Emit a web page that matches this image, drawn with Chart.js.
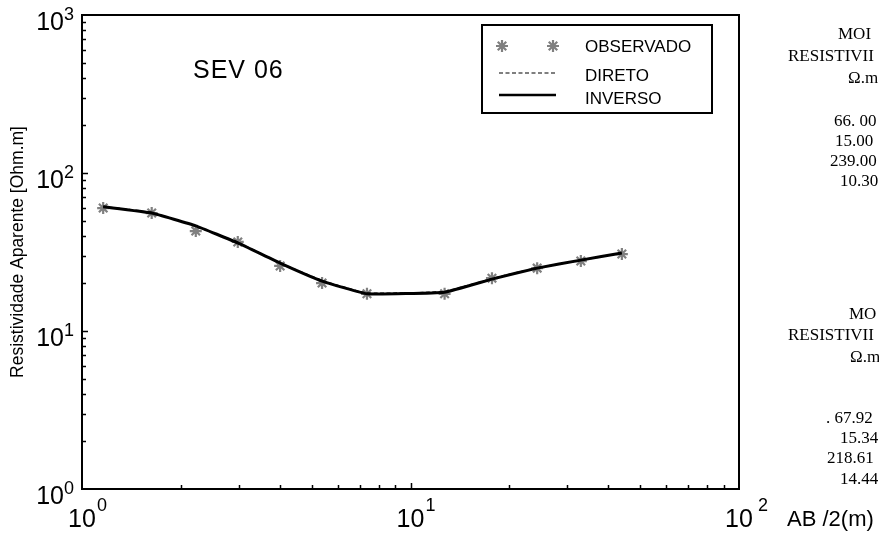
<!DOCTYPE html>
<html>
<head>
<meta charset="utf-8">
<script src="https://cdn.jsdelivr.net/npm/chart.js@4"></script>
<style>
html,body{margin:0;padding:0;background:#fff;}
#wrap{width:879px;height:534px;position:relative;}
</style>
</head>
<body>
<div id="wrap"><canvas id="c" width="879" height="534"></canvas></div>
<script>
// ---- data ----
const abHalf   = [1.16, 1.63, 2.22, 2.98, 4.01, 5.38, 7.37, 12.7, 17.7, 24.3, 33.0, 44.0];
const rhoObs   = [60.0, 55.8, 42.9, 36.6, 25.8, 20.1, 17.2, 17.2, 21.6, 25.0, 27.7, 30.7];
const rhoInv   = [61.1, 55.8, 46.3, 36.1, 26.9, 20.7, 17.2, 17.6, 21.3, 25.0, 28.1, 31.2];
const rhoDir   = [61.5, 56.3, 46.0, 36.5, 27.0, 20.9, 17.4, 17.8, 21.5, 25.2, 28.0, 31.0];
const xTicks   = [1, 10, 100];
const yTicks   = [1, 10, 100, 1000];
const tickExp  = {1:'0', 10:'1', 100:'2', 1000:'3'};
const seriesNames = ['OBSERVADO', 'DIRETO', 'INVERSO'];
const titleText = 'SEV 06';
const xTitle = 'AB /2(m)';
const yTitle = 'Resistividade Aparente [Ohm.m]';
const modelHeader1 = ['MOI', 'RESISTIVII', 'Ω.m'];
const modelValues1 = ['66. 00', '15.00', '239.00', '10.30'];
const modelHeader2 = ['MO', 'RESISTIVII', 'Ω.m'];
const modelValues2 = ['. 67.92', '15.34', '218.61', '14.44'];

const pts = arr => abHalf.map((v, i) => ({x: v, y: arr[i]}));
const SANS = '"Liberation Sans", Arial, sans-serif';
const SERIF = '"Liberation Serif", "Times New Roman", serif';

function drawStar(ctx, cx, cy, r){
  ctx.beginPath();
  ctx.moveTo(cx - r, cy); ctx.lineTo(cx + r, cy);
  ctx.moveTo(cx, cy - r); ctx.lineTo(cx, cy + r);
  const d = r * 0.7071;
  ctx.moveTo(cx - d, cy - d); ctx.lineTo(cx + d, cy + d);
  ctx.moveTo(cx - d, cy + d); ctx.lineTo(cx + d, cy - d);
  ctx.stroke();
}

const deco = {
  id: 'deco',
  afterDraw(chart){
    const {ctx, chartArea: a, scales: {x, y}} = chart;
    ctx.save();
    // frame
    ctx.strokeStyle = '#000';
    ctx.lineWidth = 2;
    ctx.strokeRect(a.left, a.top, a.right - a.left, a.bottom - a.top);
    // inward ticks
    ctx.lineWidth = 1.5;
    ctx.beginPath();
    for (let d = 1; d < 1000; d *= 10){
      for (let k = 1; k <= 9; k++){
        const v = d * k;
        if (v <= 1 || v >= 1000) continue;
        const py = Math.round(y.getPixelForValue(v)) + 0.5;
        const len = k === 1 ? 6 : 4;
        ctx.moveTo(a.left, py); ctx.lineTo(a.left + len, py);
      }
    }
    for (let d = 1; d < 100; d *= 10){
      for (let k = 1; k <= 9; k++){
        const v = d * k;
        if (v <= 1 || v >= 100) continue;
        const px = Math.round(x.getPixelForValue(v)) + 0.5;
        const len = k === 1 ? 6 : 4;
        ctx.moveTo(px, a.bottom); ctx.lineTo(px, a.bottom - len);
      }
    }
    ctx.stroke();

    // tick labels
    ctx.fillStyle = '#000';
    ctx.textBaseline = 'alphabetic';
    yTicks.forEach(v => {
      const py = y.getPixelForValue(v);
      ctx.font = '25px ' + SANS;
      ctx.textAlign = 'right';
      ctx.fillText('10', 64, py + 15);
      ctx.font = '18px ' + SANS;
      ctx.textAlign = 'left';
      ctx.fillText(tickExp[v], 64, py + 5);
    });
    xTicks.forEach(v => {
      const px = x.getPixelForValue(v);
      ctx.font = '25px ' + SANS;
      ctx.textAlign = 'center';
      ctx.fillText('10', px, 527);
      const w = ctx.measureText('10').width;
      ctx.font = '18px ' + SANS;
      ctx.textAlign = 'left';
      ctx.fillText(tickExp[v], px + w / 2 + (v === 100 ? 5 : 1), 511);
    });

    // axis titles
    ctx.font = '22px ' + SANS;
    ctx.textAlign = 'left';
    ctx.fillText(xTitle, 787, 526);
    ctx.save();
    ctx.translate(23, 252);
    ctx.rotate(-Math.PI / 2);
    ctx.font = '17.5px ' + SANS;
    ctx.textAlign = 'center';
    ctx.fillText(yTitle, 0, 0);
    ctx.restore();

    // plot label
    ctx.font = '25px ' + SANS;
    ctx.textAlign = 'left';
    ctx.letterSpacing = '1px';
    ctx.fillText(titleText, 193, 78);
    ctx.letterSpacing = '0px';

    // legend
    const L = {l: 482, t: 25, r: 712, b: 113};
    ctx.lineWidth = 2;
    ctx.strokeStyle = '#000';
    ctx.strokeRect(L.l, L.t, L.r - L.l, L.b - L.t);
    ctx.strokeStyle = '#808080';
    ctx.lineWidth = 2.2;
    drawStar(ctx, 502, 46, 6);
    drawStar(ctx, 553, 46, 6);
    ctx.strokeStyle = '#000';
    ctx.lineWidth = 1.2;
    ctx.setLineDash([4, 2.5]);
    ctx.beginPath(); ctx.moveTo(499, 73); ctx.lineTo(556, 73); ctx.stroke();
    ctx.setLineDash([]);
    ctx.lineWidth = 2.5;
    ctx.beginPath(); ctx.moveTo(499, 95); ctx.lineTo(556, 95); ctx.stroke();
    ctx.font = '17px ' + SANS;
    ctx.fillStyle = '#000';
    ctx.fillText(seriesNames[0], 585, 52);
    ctx.fillText(seriesNames[1], 585, 81);
    ctx.fillText(seriesNames[2], 585, 104);

    // model tables
    ctx.font = '17px ' + SERIF;
    const h1x = [838, 788, 848], h1y = [39, 61, 83];
    modelHeader1.forEach((s, i) => ctx.fillText(s, h1x[i], h1y[i]));
    const v1x = [834, 835, 830, 840], v1y = [126, 146, 166, 186];
    modelValues1.forEach((s, i) => ctx.fillText(s, v1x[i], v1y[i]));
    const h2x = [849, 788, 850], h2y = [319, 340, 362];
    modelHeader2.forEach((s, i) => ctx.fillText(s, h2x[i], h2y[i]));
    const v2x = [826, 840, 827, 840], v2y = [423, 443, 463, 484];
    modelValues2.forEach((s, i) => ctx.fillText(s, v2x[i], v2y[i]));
    ctx.restore();
  }
};

new Chart(document.getElementById('c'), {
  type: 'line',
  data: {
    datasets: [
      {label: seriesNames[2], data: pts(rhoInv), borderColor: '#000', borderWidth: 3,
       pointRadius: 0, tension: 0.1, order: 0, fill: false},
      {label: seriesNames[1], data: pts(rhoDir), borderColor: '#000', borderWidth: 1.2,
       borderDash: [4, 2.5], pointRadius: 0, tension: 0.1, order: 1, fill: false},
      {label: seriesNames[0], data: pts(rhoObs), showLine: false, pointStyle: 'star',
       pointRadius: 6, borderColor: '#808080', backgroundColor: '#808080',
       pointBorderWidth: 2.2, order: 2}
    ]
  },
  options: {
    responsive: false,
    animation: false,
    layout: {padding: {left: 82, right: 140, top: 15, bottom: 45}},
    plugins: {legend: {display: false}, tooltip: {enabled: false}, title: {display: false}},
    scales: {
      x: {type: 'logarithmic', min: 1, max: 100, display: false},
      y: {type: 'logarithmic', min: 1, max: 1000, display: false}
    }
  },
  plugins: [deco]
});
</script>
</body>
</html>
